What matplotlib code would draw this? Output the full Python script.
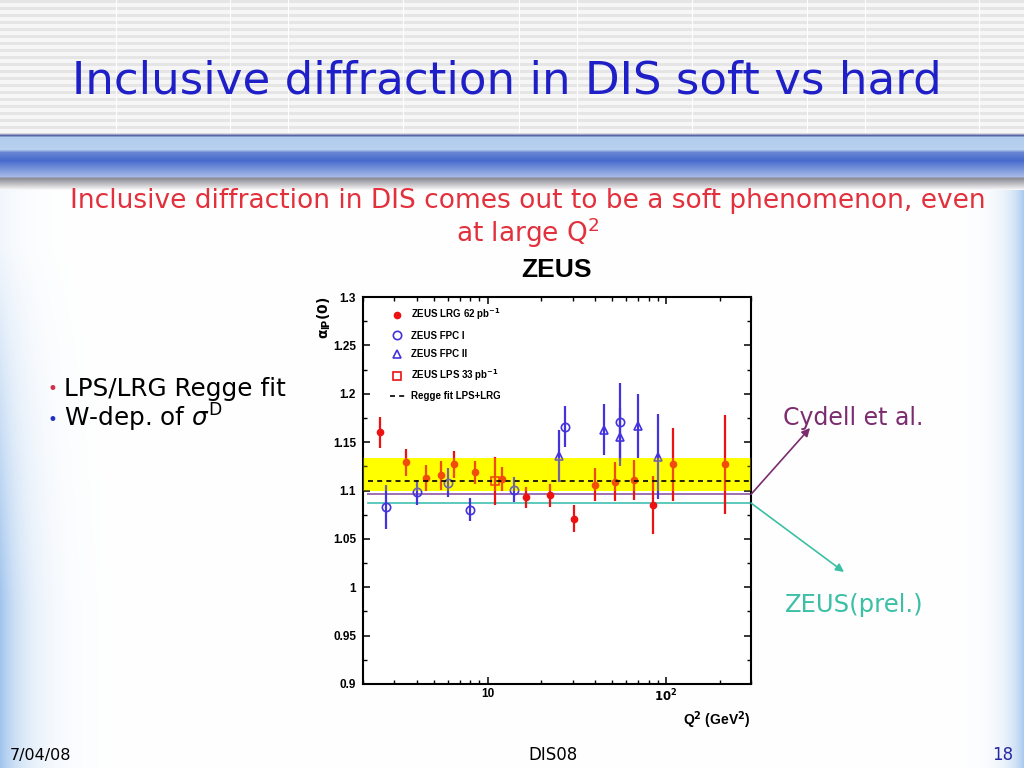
import numpy as np
import matplotlib
matplotlib.use('Agg')
import matplotlib.pyplot as plt
from matplotlib.lines import Line2D
from matplotlib.ticker import MultipleLocator, FixedLocator, FuncFormatter, NullFormatter

# ZEUS LRG 62 pb-1
lrg_q2 = [2.5, 3.5, 4.5, 5.5, 6.5, 8.5, 12, 16.5, 22.5, 30.5, 40, 51.5, 66, 85, 110, 215]
lrg_alpha = [1.160, 1.129, 1.113, 1.116, 1.127, 1.119, 1.112, 1.093, 1.095, 1.071,
             1.106, 1.109, 1.111, 1.085, 1.127, 1.127]
lrg_err = [0.016, 0.014, 0.013, 0.015, 0.014, 0.012, 0.012, 0.011, 0.012, 0.014,
           0.017, 0.020, 0.021, 0.030, 0.038, 0.051]

# ZEUS FPC I
fpc1_q2 = [2.7, 4, 6, 8, 14, 27, 55]
fpc1_alpha = [1.083, 1.098, 1.108, 1.080, 1.101, 1.166, 1.171]
fpc1_err = [0.023, 0.013, 0.015, 0.012, 0.013, 0.021, 0.040]

# ZEUS FPC II
fpc2_q2 = [25, 45, 55, 70, 90]
fpc2_alpha = [1.136, 1.163, 1.155, 1.167, 1.135]
fpc2_err = [0.027, 0.026, 0.030, 0.033, 0.044]

# ZEUS LPS 33 pb-1
lps_q2 = [11]
lps_alpha = [1.110]
lps_err = [0.025]

regge_fit = 1.110
regge_band = (1.0995, 1.1333)
cydell = 1.096
zeus_prel = 1.087
line_q2 = (2.14, 300)

W, H = 1024, 768


def px(x, y):
    return x / W, 1 - y / H


# ---- slide background ----
img = np.ones((H, W, 3))
yy, xx = np.mgrid[0:H, 0:W]

# striped header
grey = np.where((yy % 7) < 3, 0.90, 0.965)
for c in range(3):
    img[:134, :, c] = grey[:134]
for vx in [116, 230, 288, 403, 519, 577, 692, 807, 865, 979]:
    img[:134, vx, :] = 1.0

# blue bar under the title
keys_y = [133, 135, 137, 149, 152, 160, 172, 176, 178, 190]
keys_c = [(0.85, 0.85, 0.88), (0.35, 0.40, 0.65), (0.70, 0.80, 0.93), (0.72, 0.82, 0.94),
          (0.40, 0.52, 0.82), (0.28, 0.42, 0.80), (0.55, 0.65, 0.88), (0.65, 0.72, 0.90),
          (0.55, 0.55, 0.58), (1.0, 1.0, 1.0)]
rows = np.arange(133, 191)
for c in range(3):
    prof = np.interp(rows, keys_y, [k[c] for k in keys_c])
    img[133:191, :, c] = prof[:, None]

# blue fades at left and right edges
edge = np.array([0.63, 0.77, 0.93])
left = np.exp(-xx / 24.0) * np.clip((yy - 185) / 420.0, 0.15, 1.0)
right = np.exp(-(W - 1 - xx) / 14.0) * 0.9
s = np.clip(left + right, 0, 1)
s[:190] = 0
for c in range(3):
    img[:, :, c] = img[:, :, c] * (1 - s) + edge[c] * s

fig = plt.figure(figsize=(10.24, 7.68), dpi=100)
bg = fig.add_axes([0, 0, 1, 1])
bg.imshow(img, extent=(0, W, H, 0), aspect='auto', interpolation='bilinear')
bg.axis('off')

comic = 'DejaVu Sans'

fig.text(*px(507, 93), 'Inclusive diffraction in DIS soft vs hard', color='#1f1fc8',
         fontsize=32.5, family=comic, ha='center', va='baseline')
fig.text(*px(528, 208), 'Inclusive diffraction in DIS comes out to be a soft phenomenon, even',
         color='#e2303c', fontsize=19, family=comic, ha='center', va='baseline')
fig.text(*px(528, 242), 'at large Q$^2$', color='#e2303c', fontsize=19, family=comic,
         ha='center', va='baseline')
fig.text(*px(556, 277), 'ZEUS', fontsize=19, family='Liberation Sans', weight='bold',
         ha='center', va='baseline')

fig.text(*px(48, 394), '\u2022', color='#d0304a', fontsize=12, family=comic, va='baseline')
fig.text(*px(64, 396), 'LPS/LRG Regge fit', fontsize=17.8, family=comic, va='baseline')
fig.text(*px(48, 425), '\u2022', color='#2030c0', fontsize=12, family=comic, va='baseline')
fig.text(*px(64, 427), r'W-dep. of $\sigma^{\rm D}$', fontsize=17.8, family=comic,
         va='baseline')

fig.text(*px(783, 425), 'Cydell et al.', color='#7b2c6e', fontsize=17, family=comic,
         va='baseline')
fig.text(*px(785, 612), 'ZEUS(prel.)', color='#3bbfa5', fontsize=17.5, family=comic,
         va='baseline')

fig.text(*px(10, 760), '7/04/08', fontsize=11.5, family='DejaVu Sans', va='baseline')
fig.text(*px(553, 760), 'DIS08', fontsize=12, family=comic, ha='center', va='baseline')
fig.text(*px(1013, 760), '18', color='#2828a0', fontsize=12, family='DejaVu Sans',
         ha='right', va='baseline')

# ---- the ZEUS plot ----
ax = fig.add_axes([363 / W, 1 - 684 / H, 388 / W, 387 / H])
ax.set_facecolor('white')
ax.set_xscale('log')
ax.set_xlim(2, 300)
ax.set_ylim(0.9, 1.3)

red = '#ee1111'
blue = '#4433dd'

ax.axhspan(*regge_band, color='#ffff00', lw=0, zorder=1)
ax.errorbar(lrg_q2, lrg_alpha, yerr=lrg_err, fmt='o', color=red, ms=4.5, elinewidth=1.6,
            capsize=0, zorder=3)
ax.errorbar(fpc1_q2, fpc1_alpha, yerr=fpc1_err, fmt='o', color=blue, mfc='none', ms=6,
            mew=1.2, elinewidth=1.6, capsize=0, zorder=3)
ax.errorbar(fpc2_q2, fpc2_alpha, yerr=fpc2_err, fmt='^', color=blue, mfc='none', ms=6,
            mew=1.2, elinewidth=1.6, capsize=0, zorder=3)
ax.errorbar(lps_q2, lps_alpha, yerr=lps_err, fmt='s', color=red, mfc='none', ms=6,
            mew=1.2, elinewidth=1.6, capsize=0, zorder=3)
# yellow tint over the points inside the band
ax.axhspan(*regge_band, color='#ffff00', alpha=0.25, lw=0, zorder=4)
ax.plot(line_q2, [regge_fit] * 2, color='black', ls=(0, (3, 2.5)), lw=1.2, zorder=5)

ax.plot(line_q2, [cydell] * 2, color='#a070b0', lw=1.4, zorder=2, clip_on=False)
ax.plot(line_q2, [zeus_prel] * 2, color='#40c0b0', lw=1.2, zorder=2, clip_on=False)

ax.annotate('', xy=(810, H - 428), xycoords='figure pixels',
            xytext=(line_q2[1], cydell), textcoords='data', annotation_clip=False,
            arrowprops=dict(arrowstyle='-|>', color='#7b2c6e', lw=1.2, mutation_scale=12,
                            shrinkA=0, shrinkB=0))
ax.annotate('', xy=(844, H - 572), xycoords='figure pixels',
            xytext=(line_q2[1], zeus_prel), textcoords='data', annotation_clip=False,
            arrowprops=dict(arrowstyle='-|>', color='#3bbfa5', lw=1.2, mutation_scale=12,
                            shrinkA=0, shrinkB=0))

ax.yaxis.set_major_locator(MultipleLocator(0.05))
ax.yaxis.set_minor_locator(MultipleLocator(0.025))
ax.yaxis.set_major_formatter(FuncFormatter(lambda v, p: f'{round(v, 3):g}'))
ax.xaxis.set_major_locator(FixedLocator([10, 100]))
ax.xaxis.set_minor_locator(FixedLocator([2, 3, 4, 5, 6, 7, 8, 9, 20, 30, 40, 50, 60, 70,
                                         80, 90, 200, 300]))
ax.xaxis.set_major_formatter(FuncFormatter(lambda v, p: '10' if v < 50 else r'$\mathbf{10^{2}}$'))
ax.xaxis.set_minor_formatter(NullFormatter())
ax.tick_params(which='both', direction='in', top=True, right=True, labelsize=8.5)
ax.tick_params(which='major', length=5, width=1.1)
ax.tick_params(which='minor', length=2.8, width=1.0)
ax.tick_params(axis='y', pad=5)
ax.tick_params(axis='x', pad=3)
for sp in ax.spines.values():
    sp.set_linewidth(1.5)
for lbl in ax.get_xticklabels() + ax.get_yticklabels():
    lbl.set_fontweight('bold')
    lbl.set_family('Liberation Sans')

ax.set_ylabel(r'$\mathbf{\alpha_{I\!P}(0)}$', fontsize=10, loc='top')
ax.yaxis.set_label_coords(-0.077, 1.0)
ax.set_xlabel(r'Q$^{\mathbf{2}}$ (GeV$^{\mathbf{2}}$)', fontsize=10, weight='bold',
              family='Liberation Sans', loc='right')
ax.xaxis.set_label_coords(1.0, -0.065)

handles = [
    Line2D([], [], ls='none', marker='o', color=red, ms=4.5),
    Line2D([], [], ls='none', marker='o', color=blue, mfc='none', ms=6, mew=1.2),
    Line2D([], [], ls='none', marker='^', color=blue, mfc='none', ms=6, mew=1.2),
    Line2D([], [], ls='none', marker='s', color=red, mfc='none', ms=6, mew=1.2),
    Line2D([], [], color='black', ls=(0, (3, 2.5)), lw=1.2),
]
labels = ['ZEUS LRG 62 pb$^{\\mathbf{-1}}$', 'ZEUS FPC I', 'ZEUS FPC II',
          'ZEUS LPS 33 pb$^{\\mathbf{-1}}$', 'Regge fit LPS+LRG']
ax.legend(handles, labels, loc='upper left', bbox_to_anchor=(0.07, 0.975), frameon=False,
          prop={'family': 'Liberation Sans', 'weight': 'bold', 'size': 7},
          handlelength=1.5, handletextpad=0.6, labelspacing=0.85, borderpad=0,
          borderaxespad=0)

fig.savefig('out.png', dpi=100)
